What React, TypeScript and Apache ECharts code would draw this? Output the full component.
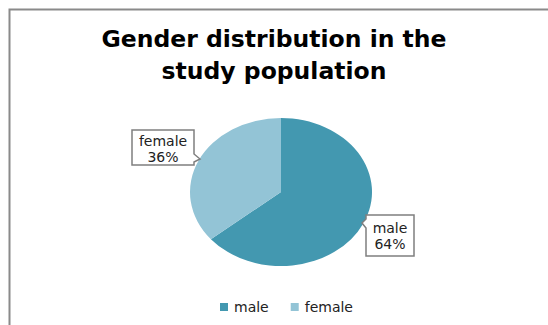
import React, { useEffect, useRef } from "react";
import * as echarts from "echarts";

const titleText = "Gender distribution in the\nstudy population";
const categories = ["male", "female"];
const values = [64, 36];
const colors = ["#4398B0", "#93C4D6"];

export default function App() {
  const ref = useRef<HTMLDivElement>(null);
  useEffect(() => {
    document.body.style.margin = "0";
    const chart = echarts.init(ref.current!, null, { renderer: "svg" });
    const total = values.reduce((a, b) => a + b, 0);
    const cx = 281, cy = 192, rx = 91, ry = 74;
    let acc = -Math.PI / 2;
    const angles = values.map((v) => {
      const sa = acc;
      acc += (v / total) * Math.PI * 2;
      return [sa, acc];
    });
    const pct = values.map((v) => Math.round((v / total) * 100) + "%");
    const font = "'DejaVu Sans', sans-serif";

    const callout = (pts: number[][], tx: number, ty: number, i: number) => [
      {
        type: "polygon",
        shape: { points: pts },
        style: { fill: "#fff", stroke: "#7f7f7f", lineWidth: 1.5 },
        z: 10,
      },
      {
        type: "text",
        x: tx,
        y: ty,
        style: {
          text: categories[i],
          fill: "#222",
          font: `14px ${font}`,
          align: "center",
          verticalAlign: "middle",
        },
        z: 11,
      },
      {
        type: "text",
        x: tx,
        y: ty + 16,
        style: {
          text: pct[i],
          fill: "#222",
          font: `14px ${font}`,
          align: "center",
          verticalAlign: "middle",
        },
        z: 11,
      },
    ];

    chart.setOption({
      animation: false,
      title: {
        text: titleText,
        left: "center",
        top: 18,
        textStyle: {
          fontFamily: font,
          fontSize: 23.5,
          fontWeight: "bold",
          color: "#000",
          lineHeight: 32,
        },
      },
      legend: {
        data: categories,
        left: 220,
        top: 300,
        padding: 0,
        icon: "rect",
        itemWidth: 8,
        itemHeight: 8,
        itemGap: 22,
        textStyle: { fontFamily: font, fontSize: 14, color: "#222", padding: [0, 0, 0, 1] },
      },
      series: categories.map((name, i) => ({
        type: "custom",
        name,
        coordinateSystem: "none",
        itemStyle: { color: colors[i] },
        data: [[values[i]]],
        renderItem: () => ({
          type: "group",
          x: cx,
          y: cy,
          scaleY: ry / rx,
          children: [
            {
              type: "sector",
              shape: {
                cx: 0,
                cy: 0,
                r0: 0,
                r: rx,
                startAngle: angles[i][0],
                endAngle: angles[i][1],
                clockwise: true,
              },
              style: { fill: colors[i] },
            },
          ],
        }),
      })),
      graphic: [
        {
          type: "polyline",
          shape: { points: [[9.5, 325], [9.5, 9.5], [548, 9.5]] },
          style: { stroke: "#8a8a8a", lineWidth: 2, fill: "none" },
        },
        ...callout(
          [[132, 130], [194, 130], [194, 154], [200, 159], [194, 162], [194, 165], [132, 165]],
          163,
          141,
          1
        ),
        ...callout(
          [[366, 215], [414, 215], [414, 256], [366, 256], [366, 228], [362, 223], [366, 219]],
          390,
          228,
          0
        ),
      ],
    });
    return () => chart.dispose();
  }, []);
  return <div ref={ref} style={{ width: 548, height: 325 }} />;
}
